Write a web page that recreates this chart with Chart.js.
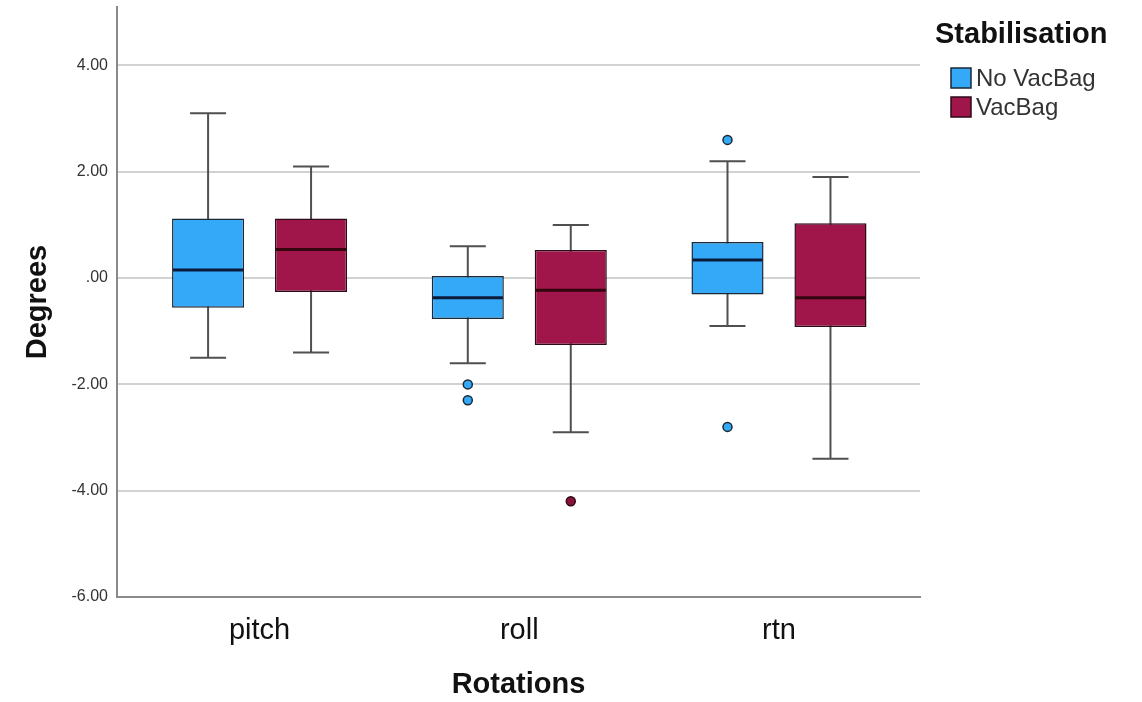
<!DOCTYPE html>
<html>
<head>
<meta charset="utf-8">
<script src="https://cdn.jsdelivr.net/npm/chart.js@4.4.1/dist/chart.umd.min.js"></script>
<style>
  body { margin: 0; background: #fff; }
  #box { width: 1142px; height: 702px; }
</style>
</head>
<body>
<div id="box"><canvas id="chart" width="1142" height="702"></canvas></div>
<script>
// data block
const categories = ['pitch', 'roll', 'rtn']
const groups = ['No VacBag', 'VacBag']

const noVacLow = [-1.5, -1.6, -0.9]
const noVacQ1 = [-0.56, -0.77, -0.31]
const noVacMedian = [0.15, -0.37, 0.34]
const noVacQ3 = [1.12, 0.04, 0.68]
const noVacHigh = [3.1, 0.6, 2.2]
const noVacOutliers = [[], [-2.0, -2.3], [2.6, -2.8]]

const vacLow = [-1.4, -2.9, -3.4]
const vacQ1 = [-0.26, -1.26, -0.92]
const vacMedian = [0.54, -0.23, -0.37]
const vacQ3 = [1.12, 0.53, 1.03]
const vacHigh = [2.1, 1.0, 1.9]
const vacOutliers = [[], [-4.2], []]

const yTicks = [-6, -4, -2, 0, 2, 4]

const FONT = 'Arial, "Liberation Sans", sans-serif'
const fills = ['#33a9f7', '#a0164b']
const edges = ['#1b2836', '#2e0a16']
const medianColors = ['#0c1a3c', '#33060f']
const outlierFills = ['#33a9f7', '#8b1238']

// whiskers, medians, outliers per group
const stats = [
    { low: noVacLow, median: noVacMedian, high: noVacHigh, out: noVacOutliers },
    { low: vacLow, median: vacMedian, high: vacHigh, out: vacOutliers }
]

const boxPlot = {
    id: 'boxPlot',
    beforeDatasetsDraw(chart) {
        const { ctx, scales: { y } } = chart
        ctx.save()
        ctx.strokeStyle = '#505050'
        ctx.lineWidth = 2
        stats.forEach((s, d) => {
            chart.getDatasetMeta(d).data.forEach((bar, i) => {
                const half = bar.width / 4
                const top = y.getPixelForValue(s.high[i])
                const bot = y.getPixelForValue(s.low[i])
                ctx.beginPath()
                ctx.moveTo(bar.x, top); ctx.lineTo(bar.x, bot)
                ctx.moveTo(bar.x - half, top); ctx.lineTo(bar.x + half, top)
                ctx.moveTo(bar.x - half, bot); ctx.lineTo(bar.x + half, bot)
                ctx.stroke()
            })
        })
        ctx.restore()
    },
    afterDatasetsDraw(chart) {
        const { ctx, scales: { y } } = chart
        ctx.save()
        stats.forEach((s, d) => {
            chart.getDatasetMeta(d).data.forEach((bar, i) => {
                const my = y.getPixelForValue(s.median[i])
                ctx.strokeStyle = medianColors[d]
                ctx.lineWidth = 3
                ctx.beginPath()
                ctx.moveTo(bar.x - bar.width / 2 + 1, my)
                ctx.lineTo(bar.x + bar.width / 2 - 1, my)
                ctx.stroke()
                s.out[i].forEach(v => {
                    ctx.beginPath()
                    ctx.arc(bar.x, y.getPixelForValue(v), 4.5, 0, Math.PI * 2)
                    ctx.fillStyle = outlierFills[d]
                    ctx.fill()
                    ctx.lineWidth = 1.5
                    ctx.strokeStyle = edges[d]
                    ctx.stroke()
                })
            })
        })
        ctx.restore()
    },
    afterDraw(chart) {
        // legend
        const { ctx } = chart
        ctx.save()
        ctx.textBaseline = 'middle'
        ctx.textAlign = 'left'
        ctx.fillStyle = '#111'
        ctx.font = 'bold 29px ' + FONT
        ctx.fillText('Stabilisation', 935, 35)
        ctx.font = '24px ' + FONT
        groups.forEach((g, k) => {
            const top = 68 + k * 29
            ctx.fillStyle = fills[k]
            ctx.fillRect(951, top, 20, 20)
            ctx.strokeStyle = edges[k]
            ctx.lineWidth = 1.5
            ctx.strokeRect(951, top, 20, 20)
            ctx.fillStyle = '#333'
            ctx.fillText(g, 976, top + 11)
        })
        ctx.restore()
    }
}

const boxData = {
    datasets: groups.map((g, d) => ({
        label: g,
        data: categories.map((c, i) => ({
            x: i,
            y: d === 0 ? [noVacQ1[i], noVacQ3[i]] : [vacQ1[i], vacQ3[i]]
        })),
        backgroundColor: fills[d],
        borderColor: edges[d],
        borderWidth: 1.5,
        borderSkipped: false,
        categoryPercentage: 0.793,
        barPercentage: 0.7
    }))
}

const config = {
    type: 'bar',
    data: boxData,
    options: {
        responsive: false,
        animation: false,
        layout: { padding: { top: 7, right: 222, left: 0, bottom: 0 } },
        plugins: {
            legend: { display: false },
            tooltip: { enabled: false }
        },
        scales: {
            x: {
                type: 'linear',
                min: -0.549,
                max: 2.543,
                offset: false,
                afterBuildTicks: scale => { scale.ticks = categories.map((c, i) => ({ value: i })) },
                afterFit: scale => { scale.height = 105; scale.paddingLeft = 0; scale.paddingRight = 0 },
                grid: { display: false, drawTicks: false, offset: false },
                border: { display: true, color: '#8a8a8a', width: 2 },
                ticks: {
                    padding: 17,
                    color: '#111',
                    font: { family: FONT, size: 29 },
                    callback: v => categories[v]
                },
                title: {
                    display: true,
                    text: 'Rotations',
                    color: '#111',
                    font: { family: FONT, size: 29, weight: 'bold' },
                    padding: { top: 0, bottom: 0 }
                }
            },
            y: {
                min: -6,
                max: 5.1,
                afterBuildTicks: scale => { scale.ticks = yTicks.map(v => ({ value: v })) },
                afterFit: scale => { scale.width = 117; scale.paddingTop = 0; scale.paddingBottom = 0 },
                grid: { color: '#d2d2d2', lineWidth: 2, drawTicks: false },
                border: { display: true, color: '#8a8a8a', width: 2 },
                ticks: {
                    padding: 9,
                    color: '#333',
                    font: { family: FONT, size: 16 },
                    callback: v => v === 0 ? '.00' : v.toFixed(2)
                },
                title: {
                    display: true,
                    text: 'Degrees',
                    color: '#111',
                    font: { family: FONT, size: 29, weight: 'bold' },
                    padding: { top: 21, bottom: 0 }
                }
            }
        }
    },
    plugins: [boxPlot]
}

const chart = new Chart(document.getElementById('chart'), config)
</script>
</body>
</html>
